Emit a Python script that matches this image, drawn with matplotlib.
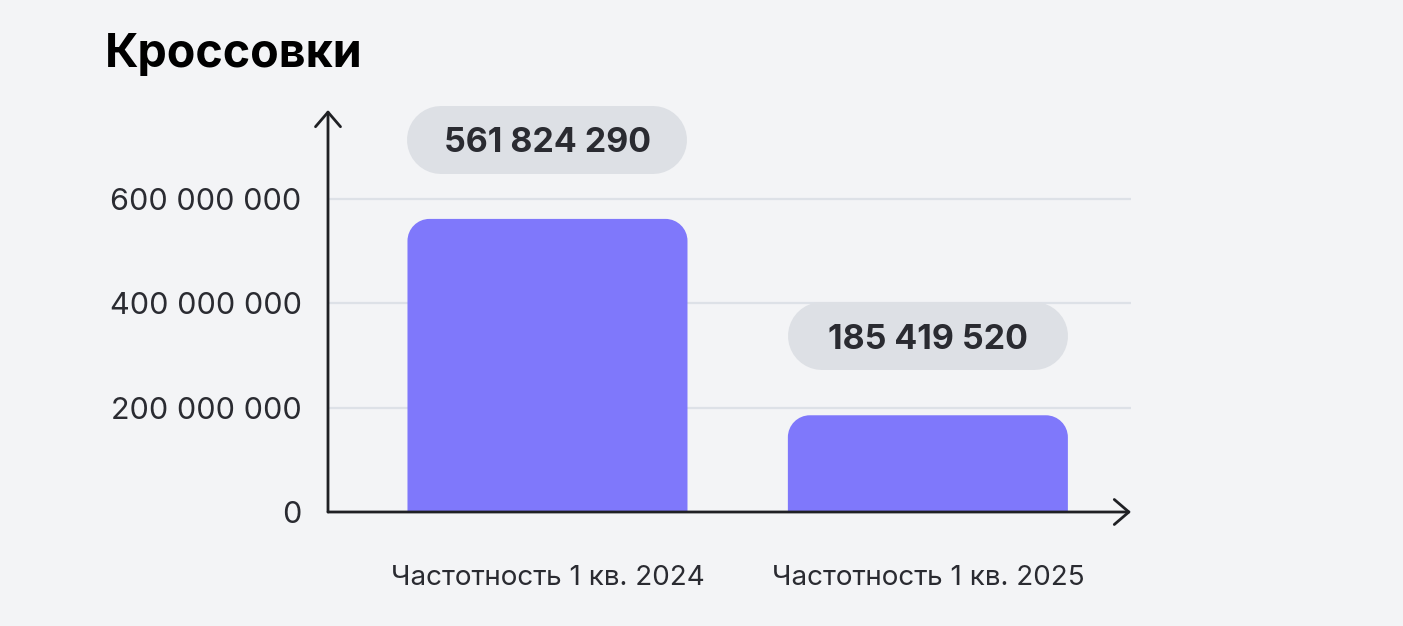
import matplotlib.pyplot as plt
from matplotlib.path import Path
from matplotlib.patches import PathPatch
from matplotlib.transforms import offset_copy

plt.rcParams['font.family'] = ['Inter', 'DejaVu Sans']

title = "Кроссовки"
categories = ["Частотность 1 кв. 2024", "Частотность 1 кв. 2025"]
values = [561824290, 185419520]
yticks = [0, 200000000, 400000000, 600000000]

bg = "#F3F4F6"
bar_color = "#7F78FB"
pill_color = "#DDE0E5"
axis_color = "#1F2024"
text_color = "#2A2B31"

W, H = 1403, 626
fig = plt.figure(figsize=(W / 100, H / 100), dpi=100, facecolor=bg)
# axes box in pixels: x 328..1131, y 110..512 (from top)
ax = fig.add_axes([328 / W, 114 / H, 803 / W, 402 / H])
ax.set_facecolor(bg)

x0, x1 = -0.577, 1.534
ymax = 600e6 * 402 / 313
ax.set_xlim(x0, x1)
ax.set_ylim(0, ymax)
x_per_px = (x1 - x0) / 803
y_per_px = ymax / 402

bar_w = 280 * x_per_px
bars = ax.bar(range(len(values)), values, width=bar_w, color=bar_color)


def top_rounded(bx, by, bw, bh, r):
    # rectangle path with rounded top corners, r in pixels
    rx, ry = r * x_per_px, r * y_per_px
    k = 0.5523
    L, R, B, T = bx, bx + bw, by, by + bh
    verts = [(L, B), (L, T - ry),
             (L, T - ry + k * ry), (L + rx - k * rx, T), (L + rx, T),
             (R - rx, T),
             (R - rx + k * rx, T), (R, T - ry + k * ry), (R, T - ry),
             (R, B), (L, B)]
    codes = [Path.MOVETO, Path.LINETO,
             Path.CURVE4, Path.CURVE4, Path.CURVE4,
             Path.LINETO,
             Path.CURVE4, Path.CURVE4, Path.CURVE4,
             Path.LINETO, Path.CLOSEPOLY]
    return Path(verts, codes)


for b in bars:
    b.set_visible(False)
    p = top_rounded(b.get_x(), b.get_y(), b.get_width(), b.get_height(), 22)
    ax.add_patch(PathPatch(p, fc=bar_color, ec="none", zorder=2))

# value pills above the bars
pill_h = 68
pill_tr = offset_copy(ax.transData, fig=fig, x=0, y=79, units='dots')
text_tr = offset_copy(ax.transData, fig=fig, x=0, y=79 - 12.5, units='dots')
half = bar_w / 2 - (pill_h / 2) * x_per_px
for i, v in enumerate(values):
    ax.plot([i - half, i + half], [v, v], lw=pill_h * 0.72, color=pill_color,
            solid_capstyle='round', transform=pill_tr, clip_on=False, zorder=3)
    ax.text(i, v, "{:,}".format(v).replace(",", " "), transform=text_tr,
            ha='center', va='baseline', fontsize=24.5, fontweight='bold',
            color=text_color, zorder=4, clip_on=False)

ax.set_yticks(yticks)
ax.set_yticklabels(["{:,}".format(t).replace(",", " ") for t in yticks])
ax.set_xticks(range(len(categories)))
ax.set_xticklabels(categories)
ax.tick_params(axis='y', length=0, pad=19, labelsize=22, labelcolor=text_color)
ax.tick_params(axis='x', length=0, pad=38, labelsize=20, labelcolor=text_color)
ax.yaxis.grid(True, color="#DDE1E7", lw=1.6)
ax.set_axisbelow(True)
for s in ax.spines.values():
    s.set_visible(False)

arrow = dict(arrowstyle='->,head_length=0.42,head_width=0.36', lw=2.0, color=axis_color,
             shrinkA=0, shrinkB=0, mutation_scale=25)
ax.annotate('', xy=(1, 0), xytext=(0, 0), xycoords='axes fraction', arrowprops=arrow, zorder=5)
ax.annotate('', xy=(0, 1), xytext=(0, 0), xycoords='axes fraction', arrowprops=arrow, zorder=5)

fig.text(105 / W, 1 - 67 / H, title, fontsize=33.5, fontweight='bold', color='black', va='baseline')

fig.savefig("out.png", dpi=100, facecolor=bg)
